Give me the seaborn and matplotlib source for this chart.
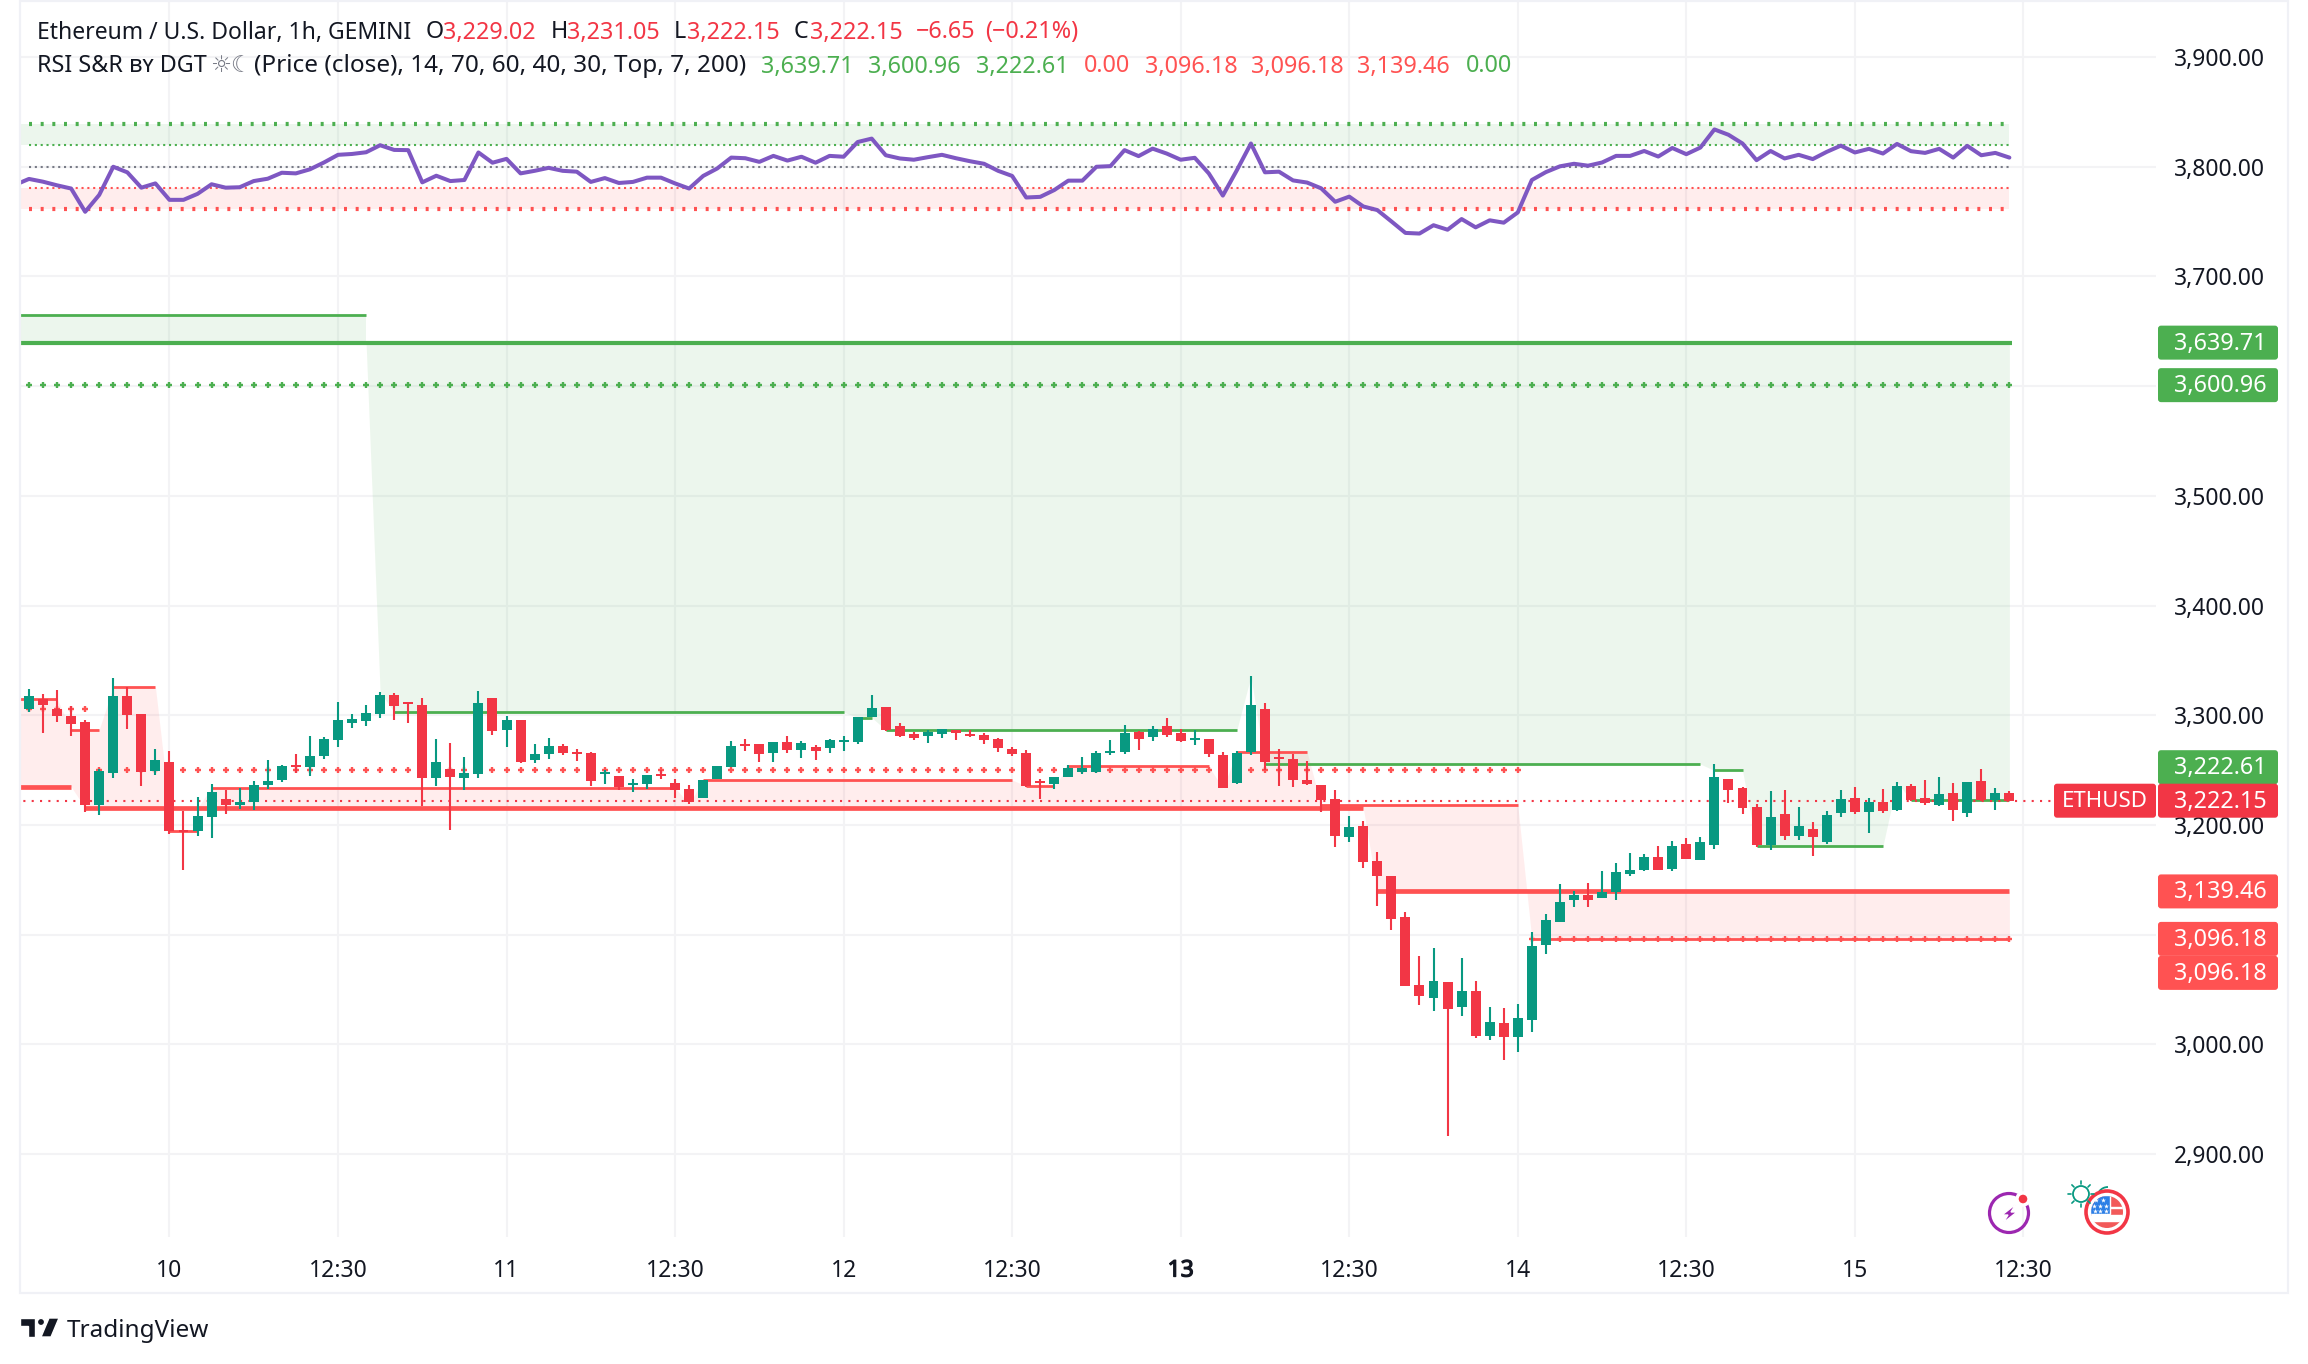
import matplotlib
matplotlib.use('Agg')
import matplotlib.pyplot as plt
import matplotlib.patches as patches
import matplotlib.patheffects as path_effects
import numpy as np
import pandas as pd
import seaborn as sns

# -------------------------------------------------------
# candles, one per hour
opens = [3305.5, 3315.2, 3305.5, 3299.1, 3293.6, 3218.2, 3247.3, 3317.3, 3300.9, 3249.1,
         3257.3, 3195.5, 3194.5, 3207.3, 3223.6, 3218.2, 3220.9, 3236.4, 3240.9, 3254.5,
         3252.7, 3262.7, 3277.3, 3292.7, 3294.5, 3300.9, 3318.2, 3311.8, 3309.1, 3242.7,
         3250.9, 3242.7, 3246.4, 3315.5, 3286.4, 3295.5, 3259.1, 3264.5, 3271.8, 3266.4,
         3265.5, 3246.4, 3244.5, 3236.4, 3237.3, 3246.4, 3238.2, 3232.7, 3224.5, 3241.8,
         3252.7, 3273.6, 3273.6, 3265.5, 3275.5, 3268.2, 3270.9, 3270.0, 3275.5, 3275.5,
         3298.2, 3307.3, 3290.0, 3282.7, 3280.9, 3282.7, 3286.4, 3282.7, 3281.8, 3278.2,
         3269.1, 3265.5, 3240.0, 3237.3, 3243.6, 3248.2, 3248.2, 3265.5, 3266.4, 3284.5,
         3280.0, 3290.0, 3283.6, 3277.3, 3278.2, 3263.6, 3238.2, 3266.4, 3305.5, 3261.8,
         3260.0, 3240.9, 3236.4, 3223.6, 3189.1, 3199.1, 3167.3, 3153.6, 3116.4, 3054.5,
         3042.7, 3057.3, 3034.5, 3049.1, 3007.3, 3019.1, 3006.4, 3021.8, 3090.9, 3111.8,
         3131.8, 3136.4, 3133.6, 3139.1, 3155.5, 3159.1, 3170.9, 3160.0, 3182.7, 3168.2,
         3181.8, 3241.8, 3233.6, 3216.4, 3181.8, 3210.0, 3190.0, 3196.4, 3184.5, 3210.9,
         3224.5, 3211.8, 3220.9, 3213.6, 3235.5, 3224.5, 3218.2, 3229.1, 3210.9, 3240.0,
         3222.7, 3229.02]
closes = [3317.3, 3309.1, 3299.1, 3291.8, 3218.2, 3249.1, 3317.3, 3300.0, 3248.2, 3259.1,
          3194.5, 3193.9, 3208.2, 3230.0, 3218.2, 3220.9, 3236.4, 3240.0, 3253.6, 3252.7,
          3262.7, 3278.2, 3295.5, 3296.4, 3301.8, 3318.2, 3308.2, 3310.0, 3242.7, 3257.3,
          3243.6, 3247.3, 3310.9, 3285.5, 3295.5, 3257.3, 3264.5, 3271.8, 3265.5, 3264.5,
          3240.0, 3248.2, 3234.5, 3238.2, 3245.5, 3244.5, 3231.8, 3221.2, 3240.9, 3253.6,
          3271.8, 3271.8, 3264.5, 3275.5, 3268.2, 3274.5, 3267.3, 3277.3, 3277.3, 3298.2,
          3306.4, 3286.4, 3280.9, 3279.1, 3284.5, 3287.3, 3283.6, 3280.9, 3277.3, 3270.0,
          3264.5, 3235.5, 3238.2, 3243.6, 3251.8, 3251.8, 3265.5, 3267.3, 3283.6, 3278.2,
          3287.3, 3281.8, 3276.4, 3279.1, 3264.5, 3233.6, 3265.5, 3309.1, 3257.3, 3260.0,
          3240.9, 3237.3, 3222.7, 3190.0, 3198.2, 3166.4, 3153.9, 3114.5, 3053.0, 3044.5,
          3058.2, 3031.8, 3049.1, 3007.3, 3020.0, 3006.4, 3023.6, 3090.0, 3113.6, 3130.0,
          3136.4, 3131.8, 3139.1, 3157.3, 3159.1, 3170.9, 3159.1, 3180.9, 3169.1, 3184.5,
          3243.6, 3231.8, 3215.5, 3181.8, 3207.3, 3190.0, 3199.1, 3189.1, 3209.1, 3223.6,
          3211.8, 3220.9, 3212.7, 3235.5, 3222.7, 3220.0, 3228.2, 3213.6, 3239.1, 3222.7,
          3229.1, 3222.15]
highs = [3324.2, 3319.1, 3323.3, 3308.2, 3296.1, 3250.6, 3333.6, 3325.8, 3301.5, 3269.1,
         3267.3, 3212.7, 3225.5, 3237.0, 3231.8, 3233.6, 3240.0, 3259.1, 3254.5, 3264.5,
         3280.9, 3280.0, 3311.8, 3300.9, 3309.1, 3320.9, 3320.0, 3311.8, 3315.5, 3278.2,
         3274.5, 3261.8, 3321.8, 3315.5, 3299.1, 3295.5, 3273.6, 3279.1, 3273.6, 3269.1,
         3266.4, 3250.0, 3244.5, 3241.8, 3245.5, 3250.0, 3241.8, 3236.4, 3240.9, 3253.6,
         3276.4, 3278.2, 3273.6, 3275.5, 3280.9, 3276.4, 3272.7, 3278.2, 3280.9, 3298.2,
         3318.2, 3307.3, 3292.7, 3284.5, 3286.4, 3287.3, 3286.4, 3286.4, 3283.6, 3279.1,
         3270.9, 3268.2, 3241.8, 3243.6, 3254.5, 3261.8, 3267.3, 3277.3, 3290.9, 3285.5,
         3290.0, 3297.3, 3287.3, 3286.4, 3278.2, 3266.4, 3267.3, 3335.5, 3310.9, 3269.1,
         3264.5, 3258.2, 3236.4, 3231.8, 3208.2, 3203.6, 3175.2, 3153.6, 3120.9, 3080.9,
         3088.2, 3057.3, 3079.1, 3058.2, 3034.5, 3032.7, 3036.4, 3102.7, 3119.1, 3146.4,
         3140.0, 3147.3, 3158.2, 3165.5, 3174.5, 3173.6, 3180.9, 3185.5, 3188.2, 3189.1,
         3255.5, 3241.8, 3234.5, 3219.1, 3230.9, 3231.8, 3216.4, 3202.7, 3212.7, 3231.8,
         3234.5, 3224.5, 3232.7, 3239.1, 3237.3, 3240.9, 3243.6, 3238.2, 3239.1, 3250.9,
         3233.6, 3231.05]
lows = [3303.0, 3283.9, 3293.9, 3280.9, 3212.1, 3209.4, 3243.0, 3287.3, 3235.5, 3245.5,
        3191.8, 3158.5, 3190.0, 3188.2, 3210.0, 3214.5, 3213.6, 3232.7, 3239.1, 3247.0,
        3244.5, 3260.0, 3270.9, 3288.2, 3290.0, 3297.3, 3295.5, 3292.7, 3217.3, 3235.5,
        3195.5, 3231.8, 3242.7, 3281.8, 3270.9, 3256.4, 3256.4, 3260.0, 3263.6, 3258.2,
        3235.5, 3237.3, 3231.8, 3230.0, 3232.7, 3241.8, 3224.5, 3219.1, 3224.5, 3241.8,
        3252.7, 3267.3, 3257.3, 3257.3, 3265.5, 3260.9, 3259.1, 3265.5, 3267.3, 3273.6,
        3298.2, 3285.5, 3280.0, 3277.3, 3274.5, 3279.1, 3277.3, 3280.0, 3273.6, 3266.4,
        3262.7, 3234.5, 3223.6, 3232.7, 3243.6, 3246.4, 3247.3, 3263.6, 3264.5, 3268.2,
        3276.4, 3280.0, 3275.5, 3272.7, 3261.8, 3233.6, 3237.3, 3263.6, 3250.0, 3235.5,
        3234.5, 3236.4, 3211.8, 3180.0, 3184.5, 3160.9, 3125.8, 3104.5, 3053.0, 3035.5,
        3030.0, 2916.7, 3025.5, 3005.5, 3003.6, 2985.5, 2992.7, 3010.9, 3082.7, 3111.8,
        3125.5, 3125.5, 3133.6, 3131.8, 3153.6, 3158.2, 3159.1, 3158.2, 3169.1, 3168.2,
        3178.2, 3220.0, 3210.0, 3180.0, 3177.3, 3186.4, 3186.4, 3171.8, 3182.7, 3207.3,
        3210.0, 3192.7, 3210.9, 3212.7, 3221.8, 3218.2, 3217.3, 3203.6, 3207.3, 3221.8,
        3213.6, 3222.15]

# RSI, first value sits one bar left of the visible range
rsi = [41.5, 44.3, 43.0, 41.3, 39.8, 28.9, 36.8, 50.0, 47.4, 40.2, 42.2, 34.5, 34.5, 37.3, 41.8,
       40.2, 40.4, 43.3, 44.4, 47.2, 46.9, 48.8, 52.0, 55.6, 56.0, 56.8, 60.1, 57.9, 57.8, 42.7,
       45.8, 43.3, 43.8, 56.7, 51.9, 53.7, 46.9, 48.1, 49.5, 48.1, 47.7, 42.9, 44.7, 42.4, 42.9,
       44.9, 44.9, 42.2, 39.8, 45.7, 49.2, 54.3, 54.0, 52.3, 55.1, 52.9, 54.7, 51.9, 55.1, 54.7,
       61.6, 63.2, 55.4, 53.9, 53.3, 54.5, 55.6, 54.0, 52.6, 51.4, 48.1, 45.7, 35.6, 35.9, 39.1,
       43.5, 43.5, 50.0, 50.3, 57.8, 55.0, 58.5, 56.2, 53.3, 54.2, 46.9, 36.5, 48.4, 60.9, 47.4,
       47.7, 43.6, 42.6, 39.9, 33.6, 36.0, 31.4, 29.7, 24.4, 19.0, 18.7, 22.6, 20.5, 25.5, 21.6,
       24.9, 23.8, 28.6, 43.8, 47.5, 50.2, 51.4, 50.5, 52.0, 55.1, 55.1, 57.4, 54.8, 58.8, 55.9,
       59.0, 67.5, 65.0, 60.9, 53.1, 57.4, 53.9, 55.6, 53.6, 57.0, 59.9, 56.7, 58.4, 56.2, 60.7,
       57.3, 56.5, 58.4, 54.3, 59.8, 55.4, 56.5, 54.3]
rsi_levels = [70, 60, 50, 40, 30]

# support / resistance steps: first bar, last bar, price
green_starts = [-1, 25, 26, 59, 61, 87, 88, 120, 123, 133, 134]
green_ends = [24, 25, 58, 60, 86, 87, 119, 122, 132, 133, 141]
green_vals = [3639.71, 3320.9, 3303.0, 3297.9, 3286.7, 3335.5, 3255.5, 3249.7, 3181.0, 3239.1, 3222.61]

red_starts = [-1, 3, 6, 10, 13, 47, 48, 71, 74, 85, 86, 92, 107]
red_ends = [2, 5, 9, 12, 46, 47, 70, 73, 84, 85, 91, 106, 141]
red_vals = [3315.0, 3287.0, 3325.8, 3194.5, 3233.9, 3219.0, 3241.0, 3235.5, 3253.3, 3233.6, 3266.4, 3217.9, 3096.18]

red_low_starts = [-1, 4, 96]
red_low_ends = [3, 95, 141]
red_low_vals = [3234.9, 3215.5, 3139.46]

first_top = 3665.0
top_level = 3639.71
top_dotted = 3600.96
last_close = 3222.15

red_plus_starts = [0, 5, 107]
red_plus_ends = [4, 106, 141]
red_plus_vals = [3305.5, 3250.0, 3096.18]

y_ticks = [2900, 3000, 3100, 3200, 3300, 3400, 3500, 3600, 3700, 3800, 3900]
x_ticks = [10, 22, 34, 46, 58, 70, 82, 94, 106, 118, 130, 142]
x_labels = ['10', '12:30', '11', '12:30', '12', '12:30', '13', '12:30', '14', '12:30', '15', '12:30']

label_texts = ['3,639.71', '3,600.96', '3,222.61', '3,222.15', '3,139.46', '3,096.18', '3,096.18']
label_prices = [3639.71, 3600.96, 3222.61, 3222.15, 3139.46, 3096.18, 3096.18]
label_nudges = [0, 0, -33, 0, 0, 0, 34]
label_colors = ['#4CAF50', '#4CAF50', '#4CAF50', '#F23645', '#FF5252', '#FF5252', '#FF5252']

# -------------------------------------------------------
GREEN = '#089981'
RED = '#F23645'
LINE_GREEN = '#4CAF50'
LINE_RED = '#FF5252'
DARK = '#131722'
FRAME = '#F0F1F6'
GRID = '#F3F3F5'

sns.set_theme(style='white')
plt.rcParams['font.family'] = ['Noto Sans', 'DejaVu Sans']

fig = plt.figure(figsize=(23.08, 13.64), dpi=100, facecolor='white')
ax = fig.add_axes([20 / 2308, 1 - 1237 / 1364, 2136 / 2308, 1235 / 1364])

candles = pd.DataFrame({'open': opens, 'high': highs, 'low': lows, 'close': closes})
candles['bar'] = candles.index
candles['color'] = np.where(candles['close'] < candles['open'], RED, GREEN)


def steps(starts, ends, vals):
    out = np.zeros(len(hours))
    for s, e, v in zip(starts, ends, vals):
        out[(hours >= s) & (hours <= e)] = v
    return out


def rsi_to_price(r):
    # the indicator is pinned to the top of the price scale
    return 3800 + (np.asarray(r, dtype=float) - 50) * 1.945


hours = np.arange(-1, 142)
green_low = steps(green_starts, green_ends, green_vals)
red_top = steps(red_starts, red_ends, red_vals)
red_low = steps(red_low_starts, red_low_ends, red_low_vals)
# no fill while the upper step is under the lower one
red_fill = np.where((hours >= 10) & (hours <= 12), red_low, red_top)

# fills
ax.fill_between([-1, 24], first_top, top_level, color=LINE_GREEN, alpha=.1, lw=0, zorder=1)
ax.fill_between(hours[25:], top_level, green_low[25:], color=LINE_GREEN, alpha=.1, lw=0, zorder=1)
ax.fill_between(hours, red_fill, red_low, color=LINE_RED, alpha=.1, lw=0, zorder=1)
ax.fill_between([-1, 141], rsi_to_price(70), rsi_to_price(60), color=LINE_GREEN, alpha=.1, lw=0, zorder=1)
ax.fill_between([-1, 141], rsi_to_price(40), rsi_to_price(30), color=LINE_RED, alpha=.1, lw=0, zorder=1)

# level lines
ax.hlines(first_top, -1, 24, color=LINE_GREEN, lw=2, zorder=2)
ax.hlines(top_level, -1, 141.2, color=LINE_GREEN, lw=3, zorder=2)
ax.hlines(green_vals[1:], green_starts[1:], green_ends[1:], color=LINE_GREEN, lw=2, zorder=2)
ax.hlines(red_vals, red_starts, red_ends, color=LINE_RED, lw=2, zorder=2)
ax.hlines(red_low_vals, red_low_starts, red_low_ends, color=LINE_RED, lw=3.4, zorder=2)
ax.hlines(last_close, -1, 144.9, color=RED, lw=1.5, linestyles=[(0, (1, 3))], zorder=2)

# plus markers
bars = np.arange(142)
ax.plot(bars, np.full(142, top_dotted), ls='', marker='+', ms=5, mew=1.7, color=LINE_GREEN, zorder=2)
for s, e, v in zip(red_plus_starts, red_plus_ends, red_plus_vals):
    plus_x = np.arange(s, e + 1)
    ax.plot(plus_x, np.full(len(plus_x), v), ls='', marker='+', ms=5, mew=1.7, color=LINE_RED, zorder=2)

# RSI band
rsi_colors = [LINE_GREEN, LINE_GREEN, '#787B86', LINE_RED, LINE_RED]
rsi_widths = [3, 1.5, 1.5, 1.5, 3]
rsi_dashes = [(0.72, 2.08), (1, 1.8), (1, 1.8), (1, 1.8), (0.72, 2.08)]
for lev, c, w, d in zip(rsi_levels, rsi_colors, rsi_widths, rsi_dashes):
    ax.hlines(rsi_to_price(lev), 0, 141, color=c, lw=w, linestyles=[(0, d)], zorder=2)

rsi_df = pd.DataFrame({'bar': hours, 'rsi': rsi_to_price(rsi)})
sns.lineplot(data=rsi_df, x='bar', y='rsi', color='#7E57C2', linewidth=2.9, ax=ax, zorder=3, errorbar=None)

# candles
ax.vlines(candles['bar'], candles['low'], candles['high'], colors=candles['color'], lw=1.5, zorder=4)
ax.bar(candles['bar'], (candles['close'] - candles['open']).abs(),
       bottom=candles[['open', 'close']].min(axis=1), width=.71, color=candles['color'], lw=0, zorder=4)

# axes
ax.set_xlim(-0.64, 151.44)
ax.set_ylim(2824.4, 3950.2)
ax.set_xlabel('')
ax.set_ylabel('')
ax.set_xticks(x_ticks)
ax.set_xticklabels(x_labels)
ax.set_yticks(y_ticks)
ax.yaxis.set_major_formatter(plt.FuncFormatter(lambda v, pos: f"{v:,.2f}"))
ax.yaxis.tick_right()
ax.tick_params(axis='both', length=0, labelsize=16.5, colors=DARK)
ax.tick_params(axis='x', pad=15.5)
ax.tick_params(axis='y', pad=13)
# the installed face has no usable bold here, so thicken the day label
ax.get_xticklabels()[6].set_path_effects([path_effects.withStroke(linewidth=0.9, foreground=DARK)])
ax.grid(True, color=GRID, lw=1.5, zorder=0)
ax.set_axisbelow(True)
sns.despine(ax=ax, left=True, bottom=True, right=True, top=True)

# -------------------------------------------------------
# overlay in image pixels for the TradingView furniture
over = fig.add_axes([0, 0, 1, 1], facecolor='none')
over.set_xlim(0, 2308)
over.set_ylim(1364, 0)
over.axis('off')

over.add_patch(patches.Rectangle((20, 1), 2268, 1292, fill=False, ec=FRAME, lw=1.6))


def price_to_px(p):
    return 825 - (p - 3200) * 1.097


for txt, p, n, c in zip(label_texts, label_prices, label_nudges, label_colors):
    yc = price_to_px(p) + n
    over.add_patch(patches.FancyBboxPatch((2158, yc - 17), 120, 34, boxstyle='round,pad=0,rounding_size=3',
                                          fc=c, ec='none'))
    over.text(2220, yc + 1, txt, color='white', fontsize=16.8, ha='center', va='center')

over.add_patch(patches.FancyBboxPatch((2054, price_to_px(last_close) - 17), 102, 34,
                                      boxstyle='round,pad=0,rounding_size=3', fc=RED, ec='none'))
over.text(2105, price_to_px(last_close) + 1, 'ETHUSD', color='white', fontsize=16, ha='center', va='center')

# legend rows
row1 = [(37, 'Ethereum / U.S. Dollar, 1h, GEMINI', DARK), (426, 'O', DARK), (443, '3,229.02', RED),
        (551, 'H', DARK), (567, '3,231.05', RED), (674, 'L', DARK), (687, '3,222.15', RED),
        (794, 'C', DARK), (810, '3,222.15', RED), (916, '\u22126.65', RED), (985, '(\u22120.21%)', RED)]
row2 = [(37, 'RSI S&R \u0299\u028f DGT', DARK), (210, '\u263c\u263e', '#787B86'),
        (254, '(Price (close), 14, 70, 60, 40, 30, Top, 7, 200)', DARK),
        (761, '3,639.71', LINE_GREEN), (868, '3,600.96', LINE_GREEN), (976, '3,222.61', LINE_GREEN),
        (1084, '0.00', LINE_RED), (1145, '3,096.18', LINE_RED), (1251, '3,096.18', LINE_RED),
        (1357, '3,139.46', LINE_RED), (1466, '0.00', LINE_GREEN)]
row_sizes = {'Ethereum / U.S. Dollar, 1h, GEMINI': 16.5, '(Price (close), 14, 70, 60, 40, 30, Top, 7, 200)': 17.5}
for y, row in ((32.5, row1), (66.5, row2)):
    for x, txt, c in row:
        over.text(x, y, txt, color=c, fontsize=row_sizes.get(txt, 16.8), ha='left', va='center')

# TradingView logo
over.add_patch(patches.Polygon([(20, 1318), (35, 1318), (35, 1337), (28, 1337), (28, 1326), (20, 1326)], fc=DARK))
over.add_patch(patches.Circle((41, 1322), 3.6, fc=DARK))
over.add_patch(patches.Polygon([(49, 1318), (59, 1318), (51, 1337), (41, 1337)], fc=DARK))
over.text(67, 1331, 'TradingView', color=DARK, fontsize=17.5, ha='left', va='center')

# lightning badge
over.add_patch(patches.Circle((2009, 1213), 19.5, fill=False, ec='#9C27B0', lw=2.3))
over.add_patch(patches.Polygon([(2016, 1204), (2002, 1215), (2008, 1215), (2003, 1223), (2017, 1212), (2011, 1212)],
                               fc='#9C27B0'))
over.add_patch(patches.Circle((2023, 1199), 7, fc='white'))
over.add_patch(patches.Circle((2023, 1199), 5, fc=RED))

# sun and moon badge
over.add_patch(patches.Arc((2108, 1198), 22, 22, theta1=170, theta2=270, ec=GREEN, lw=1.3))
over.add_patch(patches.Circle((2081, 1194), 8, fill=False, ec=GREEN, lw=1.3))
for dx, dy in [(0, -1), (0, 1), (1, 0), (-1, 0), (.7, .7), (-.7, .7), (.7, -.7), (-.7, -.7)]:
    over.plot([2081 + 10 * dx, 2081 + 13 * dx], [1194 + 10 * dy, 1194 + 13 * dy], color=GREEN, lw=1.2)

# flag badge
over.add_patch(patches.Circle((2107, 1212), 21, fc='white', ec=RED, lw=2.6))
clip = patches.Circle((2107, 1212), 16, transform=over.transData)
for y0, h in [(1195, 12), (1208, 7), (1221, 9)]:
    stripe = patches.Rectangle((2090, y0), 34, h, fc='#F25A5A')
    over.add_patch(stripe)
    stripe.set_clip_path(clip)
canton = patches.Rectangle((2090, 1195), 20, 19, fc='#2D7FE6')
over.add_patch(canton)
canton.set_clip_path(clip)
over.scatter([2096, 2103, 2094, 2100, 2106, 2095, 2100, 2106], [1200, 1200, 1206, 1206, 1206, 1211, 1211, 1211],
             marker='*', s=14, color='white', lw=0)

fig.savefig('out.png', dpi=100)
